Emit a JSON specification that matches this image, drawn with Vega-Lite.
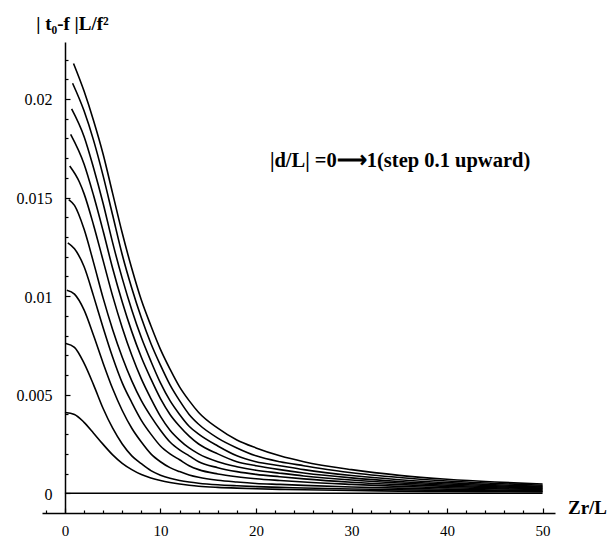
{
  "$schema": "https://vega.github.io/schema/vega-lite/v6.json",
  "width": 513,
  "height": 471,
  "autosize": {"type": "none"},
  "padding": {"left": 42, "top": 42, "right": 58, "bottom": 24},
  "background": "white",
  "config": {"view": {"stroke": null}, "font": "Liberation Serif"},
  "datasets": {
    "note": [{"z": 21.46, "y": 0.01655, "label": "|d/L| =0⟶1(step 0.1 upward)"}],
    "curves": [
      {"d": 0, "z": 0, "y": 0}, {"d": 0, "z": 50, "y": 0},
      {"d": 0.1, "z": 0, "y": 0.0041}, {"d": 0.1, "z": 1, "y": 0.0040}, {"d": 0.1, "z": 2, "y": 0.0036}, {"d": 0.1, "z": 3, "y": 0.00305}, {"d": 0.1, "z": 4, "y": 0.00248}, {"d": 0.1, "z": 5, "y": 0.00195}, {"d": 0.1, "z": 6, "y": 0.00152}, {"d": 0.1, "z": 7, "y": 0.0012}, {"d": 0.1, "z": 8, "y": 0.00095}, {"d": 0.1, "z": 9, "y": 0.00078}, {"d": 0.1, "z": 10, "y": 0.00065}, {"d": 0.1, "z": 11, "y": 0.00055}, {"d": 0.1, "z": 12, "y": 0.00047}, {"d": 0.1, "z": 13, "y": 0.00041}, {"d": 0.1, "z": 14, "y": 0.00036}, {"d": 0.1, "z": 16, "y": 0.0003}, {"d": 0.1, "z": 18, "y": 0.00026}, {"d": 0.1, "z": 20, "y": 0.00023}, {"d": 0.1, "z": 22.5, "y": 0.0002}, {"d": 0.1, "z": 25, "y": 0.00018}, {"d": 0.1, "z": 30, "y": 0.00014}, {"d": 0.1, "z": 35, "y": 0.00011}, {"d": 0.1, "z": 40, "y": 0.00009}, {"d": 0.1, "z": 45, "y": 0.00008}, {"d": 0.1, "z": 50, "y": 0.00007},
      {"d": 0.2, "z": 0.1, "y": 0.0076}, {"d": 0.2, "z": 1, "y": 0.0074}, {"d": 0.2, "z": 2, "y": 0.0066}, {"d": 0.2, "z": 3, "y": 0.0055}, {"d": 0.2, "z": 4, "y": 0.0043}, {"d": 0.2, "z": 5, "y": 0.0033}, {"d": 0.2, "z": 6, "y": 0.0025}, {"d": 0.2, "z": 7, "y": 0.0019}, {"d": 0.2, "z": 8, "y": 0.0015}, {"d": 0.2, "z": 9, "y": 0.00115}, {"d": 0.2, "z": 10, "y": 0.00092}, {"d": 0.2, "z": 11, "y": 0.00076}, {"d": 0.2, "z": 12, "y": 0.00065}, {"d": 0.2, "z": 13, "y": 0.00057}, {"d": 0.2, "z": 14, "y": 0.00051}, {"d": 0.2, "z": 16, "y": 0.00043}, {"d": 0.2, "z": 18, "y": 0.00038}, {"d": 0.2, "z": 20, "y": 0.00034}, {"d": 0.2, "z": 22.5, "y": 0.0003}, {"d": 0.2, "z": 25, "y": 0.00027}, {"d": 0.2, "z": 30, "y": 0.00022}, {"d": 0.2, "z": 35, "y": 0.00018}, {"d": 0.2, "z": 40, "y": 0.00015}, {"d": 0.2, "z": 45, "y": 0.00012}, {"d": 0.2, "z": 50, "y": 0.0001},
      {"d": 0.3, "z": 0.2, "y": 0.0103}, {"d": 0.3, "z": 1, "y": 0.0101}, {"d": 0.3, "z": 2, "y": 0.0093}, {"d": 0.3, "z": 3, "y": 0.0080}, {"d": 0.3, "z": 4, "y": 0.0066}, {"d": 0.3, "z": 5, "y": 0.0053}, {"d": 0.3, "z": 6, "y": 0.0042}, {"d": 0.3, "z": 7, "y": 0.0033}, {"d": 0.3, "z": 8, "y": 0.0026}, {"d": 0.3, "z": 9, "y": 0.0020}, {"d": 0.3, "z": 10, "y": 0.0016}, {"d": 0.3, "z": 11, "y": 0.0013}, {"d": 0.3, "z": 12, "y": 0.0011}, {"d": 0.3, "z": 13, "y": 0.00093}, {"d": 0.3, "z": 14, "y": 0.00081}, {"d": 0.3, "z": 16, "y": 0.00066}, {"d": 0.3, "z": 18, "y": 0.00057}, {"d": 0.3, "z": 20, "y": 0.0005}, {"d": 0.3, "z": 22.5, "y": 0.00045}, {"d": 0.3, "z": 25, "y": 0.0004}, {"d": 0.3, "z": 30, "y": 0.00032}, {"d": 0.3, "z": 35, "y": 0.00026}, {"d": 0.3, "z": 40, "y": 0.00021}, {"d": 0.3, "z": 45, "y": 0.00017}, {"d": 0.3, "z": 50, "y": 0.00014},
      {"d": 0.4, "z": 0.3, "y": 0.0127}, {"d": 0.4, "z": 1, "y": 0.0124}, {"d": 0.4, "z": 2, "y": 0.0115}, {"d": 0.4, "z": 3, "y": 0.0100}, {"d": 0.4, "z": 4, "y": 0.0084}, {"d": 0.4, "z": 5, "y": 0.0069}, {"d": 0.4, "z": 6, "y": 0.0056}, {"d": 0.4, "z": 7, "y": 0.0046}, {"d": 0.4, "z": 8, "y": 0.0037}, {"d": 0.4, "z": 9, "y": 0.0030}, {"d": 0.4, "z": 10, "y": 0.0024}, {"d": 0.4, "z": 11, "y": 0.0020}, {"d": 0.4, "z": 12, "y": 0.0017}, {"d": 0.4, "z": 13, "y": 0.0014}, {"d": 0.4, "z": 14, "y": 0.0012}, {"d": 0.4, "z": 16, "y": 0.00098}, {"d": 0.4, "z": 18, "y": 0.00084}, {"d": 0.4, "z": 20, "y": 0.00074}, {"d": 0.4, "z": 22.5, "y": 0.00065}, {"d": 0.4, "z": 25, "y": 0.00057}, {"d": 0.4, "z": 30, "y": 0.00045}, {"d": 0.4, "z": 35, "y": 0.00035}, {"d": 0.4, "z": 40, "y": 0.00028}, {"d": 0.4, "z": 45, "y": 0.00023}, {"d": 0.4, "z": 50, "y": 0.00019},
      {"d": 0.5, "z": 0.4, "y": 0.0149}, {"d": 0.5, "z": 1, "y": 0.0146}, {"d": 0.5, "z": 2, "y": 0.0134}, {"d": 0.5, "z": 3, "y": 0.0117}, {"d": 0.5, "z": 4, "y": 0.0099}, {"d": 0.5, "z": 5, "y": 0.0083}, {"d": 0.5, "z": 6, "y": 0.0069}, {"d": 0.5, "z": 7, "y": 0.0057}, {"d": 0.5, "z": 8, "y": 0.0047}, {"d": 0.5, "z": 9, "y": 0.0039}, {"d": 0.5, "z": 10, "y": 0.0032}, {"d": 0.5, "z": 11, "y": 0.0026}, {"d": 0.5, "z": 12, "y": 0.0022}, {"d": 0.5, "z": 13, "y": 0.0019}, {"d": 0.5, "z": 14, "y": 0.0016}, {"d": 0.5, "z": 16, "y": 0.0013}, {"d": 0.5, "z": 18, "y": 0.0011}, {"d": 0.5, "z": 20, "y": 0.00096}, {"d": 0.5, "z": 22.5, "y": 0.00084}, {"d": 0.5, "z": 25, "y": 0.00073}, {"d": 0.5, "z": 30, "y": 0.00056}, {"d": 0.5, "z": 35, "y": 0.00044}, {"d": 0.5, "z": 40, "y": 0.00035}, {"d": 0.5, "z": 45, "y": 0.00028}, {"d": 0.5, "z": 50, "y": 0.00023},
      {"d": 0.6, "z": 0.5, "y": 0.0166}, {"d": 0.6, "z": 1.5, "y": 0.0158}, {"d": 0.6, "z": 2, "y": 0.0152}, {"d": 0.6, "z": 3, "y": 0.0136}, {"d": 0.6, "z": 4, "y": 0.0118}, {"d": 0.6, "z": 5, "y": 0.0100}, {"d": 0.6, "z": 6, "y": 0.0084}, {"d": 0.6, "z": 7, "y": 0.0070}, {"d": 0.6, "z": 8, "y": 0.0058}, {"d": 0.6, "z": 9, "y": 0.0048}, {"d": 0.6, "z": 10, "y": 0.0039}, {"d": 0.6, "z": 11, "y": 0.0032}, {"d": 0.6, "z": 12, "y": 0.0027}, {"d": 0.6, "z": 13, "y": 0.0023}, {"d": 0.6, "z": 14, "y": 0.0020}, {"d": 0.6, "z": 16, "y": 0.0016}, {"d": 0.6, "z": 18, "y": 0.00135}, {"d": 0.6, "z": 20, "y": 0.00117}, {"d": 0.6, "z": 22.5, "y": 0.00102}, {"d": 0.6, "z": 25, "y": 0.00088}, {"d": 0.6, "z": 30, "y": 0.00067}, {"d": 0.6, "z": 35, "y": 0.00052}, {"d": 0.6, "z": 40, "y": 0.00041}, {"d": 0.6, "z": 45, "y": 0.00033}, {"d": 0.6, "z": 50, "y": 0.00027},
      {"d": 0.7, "z": 0.6, "y": 0.0182}, {"d": 0.7, "z": 2, "y": 0.0167}, {"d": 0.7, "z": 3, "y": 0.0151}, {"d": 0.7, "z": 4, "y": 0.0133}, {"d": 0.7, "z": 5, "y": 0.0114}, {"d": 0.7, "z": 6, "y": 0.0097}, {"d": 0.7, "z": 7, "y": 0.0082}, {"d": 0.7, "z": 8, "y": 0.0069}, {"d": 0.7, "z": 9, "y": 0.0058}, {"d": 0.7, "z": 10, "y": 0.0048}, {"d": 0.7, "z": 11, "y": 0.0040}, {"d": 0.7, "z": 12, "y": 0.0034}, {"d": 0.7, "z": 13, "y": 0.0029}, {"d": 0.7, "z": 14, "y": 0.0025}, {"d": 0.7, "z": 16, "y": 0.0020}, {"d": 0.7, "z": 18, "y": 0.0016}, {"d": 0.7, "z": 20, "y": 0.0014}, {"d": 0.7, "z": 22.5, "y": 0.0012}, {"d": 0.7, "z": 25, "y": 0.00103}, {"d": 0.7, "z": 30, "y": 0.00078}, {"d": 0.7, "z": 35, "y": 0.0006}, {"d": 0.7, "z": 40, "y": 0.00047}, {"d": 0.7, "z": 45, "y": 0.00038}, {"d": 0.7, "z": 50, "y": 0.00031},
      {"d": 0.8, "z": 0.7, "y": 0.0195}, {"d": 0.8, "z": 2, "y": 0.0181}, {"d": 0.8, "z": 3, "y": 0.0165}, {"d": 0.8, "z": 4, "y": 0.0147}, {"d": 0.8, "z": 5, "y": 0.0127}, {"d": 0.8, "z": 6, "y": 0.0109}, {"d": 0.8, "z": 7, "y": 0.0093}, {"d": 0.8, "z": 8, "y": 0.0079}, {"d": 0.8, "z": 9, "y": 0.0067}, {"d": 0.8, "z": 10, "y": 0.0056}, {"d": 0.8, "z": 11, "y": 0.0047}, {"d": 0.8, "z": 12, "y": 0.0040}, {"d": 0.8, "z": 13, "y": 0.0034}, {"d": 0.8, "z": 14, "y": 0.0030}, {"d": 0.8, "z": 16, "y": 0.0024}, {"d": 0.8, "z": 18, "y": 0.0019}, {"d": 0.8, "z": 20, "y": 0.0016}, {"d": 0.8, "z": 22.5, "y": 0.0014}, {"d": 0.8, "z": 25, "y": 0.0012}, {"d": 0.8, "z": 30, "y": 0.0009}, {"d": 0.8, "z": 35, "y": 0.00069}, {"d": 0.8, "z": 40, "y": 0.00054}, {"d": 0.8, "z": 45, "y": 0.00043}, {"d": 0.8, "z": 50, "y": 0.00036},
      {"d": 0.9, "z": 0.8, "y": 0.0208}, {"d": 0.9, "z": 2, "y": 0.0194}, {"d": 0.9, "z": 3, "y": 0.0179}, {"d": 0.9, "z": 4, "y": 0.0161}, {"d": 0.9, "z": 5, "y": 0.0141}, {"d": 0.9, "z": 6, "y": 0.0121}, {"d": 0.9, "z": 7, "y": 0.0104}, {"d": 0.9, "z": 8, "y": 0.0089}, {"d": 0.9, "z": 9, "y": 0.0076}, {"d": 0.9, "z": 10, "y": 0.0065}, {"d": 0.9, "z": 11, "y": 0.0055}, {"d": 0.9, "z": 12, "y": 0.0047}, {"d": 0.9, "z": 13, "y": 0.0040}, {"d": 0.9, "z": 14, "y": 0.0035}, {"d": 0.9, "z": 16, "y": 0.0028}, {"d": 0.9, "z": 18, "y": 0.0023}, {"d": 0.9, "z": 20, "y": 0.0019}, {"d": 0.9, "z": 22.5, "y": 0.0016}, {"d": 0.9, "z": 25, "y": 0.0014}, {"d": 0.9, "z": 30, "y": 0.00104}, {"d": 0.9, "z": 35, "y": 0.0008}, {"d": 0.9, "z": 40, "y": 0.00062}, {"d": 0.9, "z": 45, "y": 0.0005}, {"d": 0.9, "z": 50, "y": 0.00041},
      {"d": 1.0, "z": 0.9, "y": 0.0218}, {"d": 1.0, "z": 2, "y": 0.0204}, {"d": 1.0, "z": 3, "y": 0.0189}, {"d": 1.0, "z": 4, "y": 0.0172}, {"d": 1.0, "z": 5, "y": 0.0152}, {"d": 1.0, "z": 6, "y": 0.0132}, {"d": 1.0, "z": 7, "y": 0.0114}, {"d": 1.0, "z": 8, "y": 0.0098}, {"d": 1.0, "z": 9, "y": 0.0085}, {"d": 1.0, "z": 10, "y": 0.0073}, {"d": 1.0, "z": 11, "y": 0.0063}, {"d": 1.0, "z": 12, "y": 0.0054}, {"d": 1.0, "z": 13, "y": 0.0047}, {"d": 1.0, "z": 14, "y": 0.0041}, {"d": 1.0, "z": 16, "y": 0.0033}, {"d": 1.0, "z": 18, "y": 0.0027}, {"d": 1.0, "z": 20, "y": 0.0023}, {"d": 1.0, "z": 22.5, "y": 0.0019}, {"d": 1.0, "z": 25, "y": 0.0016}, {"d": 1.0, "z": 30, "y": 0.0012}, {"d": 1.0, "z": 35, "y": 0.00091}, {"d": 1.0, "z": 40, "y": 0.00071}, {"d": 1.0, "z": 45, "y": 0.00057}, {"d": 1.0, "z": 50, "y": 0.00047}
    ]
  },
  "layer": [
    {
      "data": {"name": "curves"},
      "mark": {"type": "line", "color": "black", "strokeWidth": 1.6, "interpolate": "monotone"},
      "encoding": {
        "x": {
          "field": "z", "type": "quantitative",
          "scale": {"domain": [-2.4, 51.3], "nice": false, "zero": false},
          "axis": {
            "values": [-2, 0, 2, 4, 6, 8, 10, 12, 14, 16, 18, 20, 22, 24, 26, 28, 30, 32, 34, 36, 38, 40, 42, 44, 46, 48, 50],
            "tickCount": 100,
            "grid": false,
            "title": "Zr/L",
            "titleFont": "Liberation Serif", "titleFontSize": 19, "titleFontWeight": "bold", "titleColor": "black",
            "titleX": 545, "titleY": 0, "titleAlign": "center", "titleBaseline": "alphabetic", "titleAngle": 0,
            "domainColor": "black", "domainWidth": 1.5,
            "tickColor": "black", "tickWidth": 1.2,
            "tickSize": {"condition": {"test": "datum.value % 10 === 0", "value": -5}, "value": -3},
            "labelExpr": "datum.value % 10 === 0 && datum.value >= 0 ? format(datum.value, 'd') : ''",
            "labelFont": "Liberation Serif", "labelFontSize": 15, "labelColor": "black",
            "labelPadding": 15, "labelBaseline": "top",
            "labelOverlap": false, "labelFlush": false, "labelBound": false
          }
        },
        "y": {
          "field": "y", "type": "quantitative",
          "scale": {"domain": [-0.001, 0.02289], "nice": false, "zero": false},
          "axis": {
            "values": [0, 0.001, 0.002, 0.003, 0.004, 0.005, 0.006, 0.007, 0.008, 0.009, 0.01, 0.011, 0.012, 0.013, 0.014, 0.015, 0.016, 0.017, 0.018, 0.019, 0.02, 0.021, 0.022],
            "tickCount": 100,
            "offset": -23,
            "grid": false,
            "title": "| t₀-f |L/f²",
            "titleFont": "Liberation Serif", "titleFontSize": 19, "titleFontWeight": "bold", "titleColor": "black",
            "titleAngle": 0, "titleX": 7, "titleY": -13, "titleAlign": "center", "titleBaseline": "alphabetic",
            "domainColor": "black", "domainWidth": 1.5,
            "tickColor": "black", "tickWidth": 1.2,
            "tickSize": {"condition": {"test": "abs(round(datum.value*1000)) % 5 === 0", "value": -5}, "value": -3},
            "labelExpr": "abs(round(datum.value*1000)) % 5 === 0 ? (datum.value === 0 ? '0' : format(datum.value, '.3~f')) : ''",
            "labelFont": "Liberation Serif", "labelFontSize": 16, "labelColor": "black",
            "labelPadding": 18, "labelOffset": 1,
            "labelOverlap": false, "labelFlush": false, "labelBound": false
          }
        },
        "detail": {"field": "d", "type": "nominal"}
      }
    },
    {
      "data": {"name": "note"},
      "mark": {"type": "text", "align": "left", "baseline": "alphabetic", "fontSize": 20.5, "fontWeight": "bold", "font": "Liberation Serif", "color": "black"},
      "encoding": {
        "x": {"field": "z", "type": "quantitative"},
        "y": {"field": "y", "type": "quantitative"},
        "text": {"field": "label"}
      }
    }
  ]
}
